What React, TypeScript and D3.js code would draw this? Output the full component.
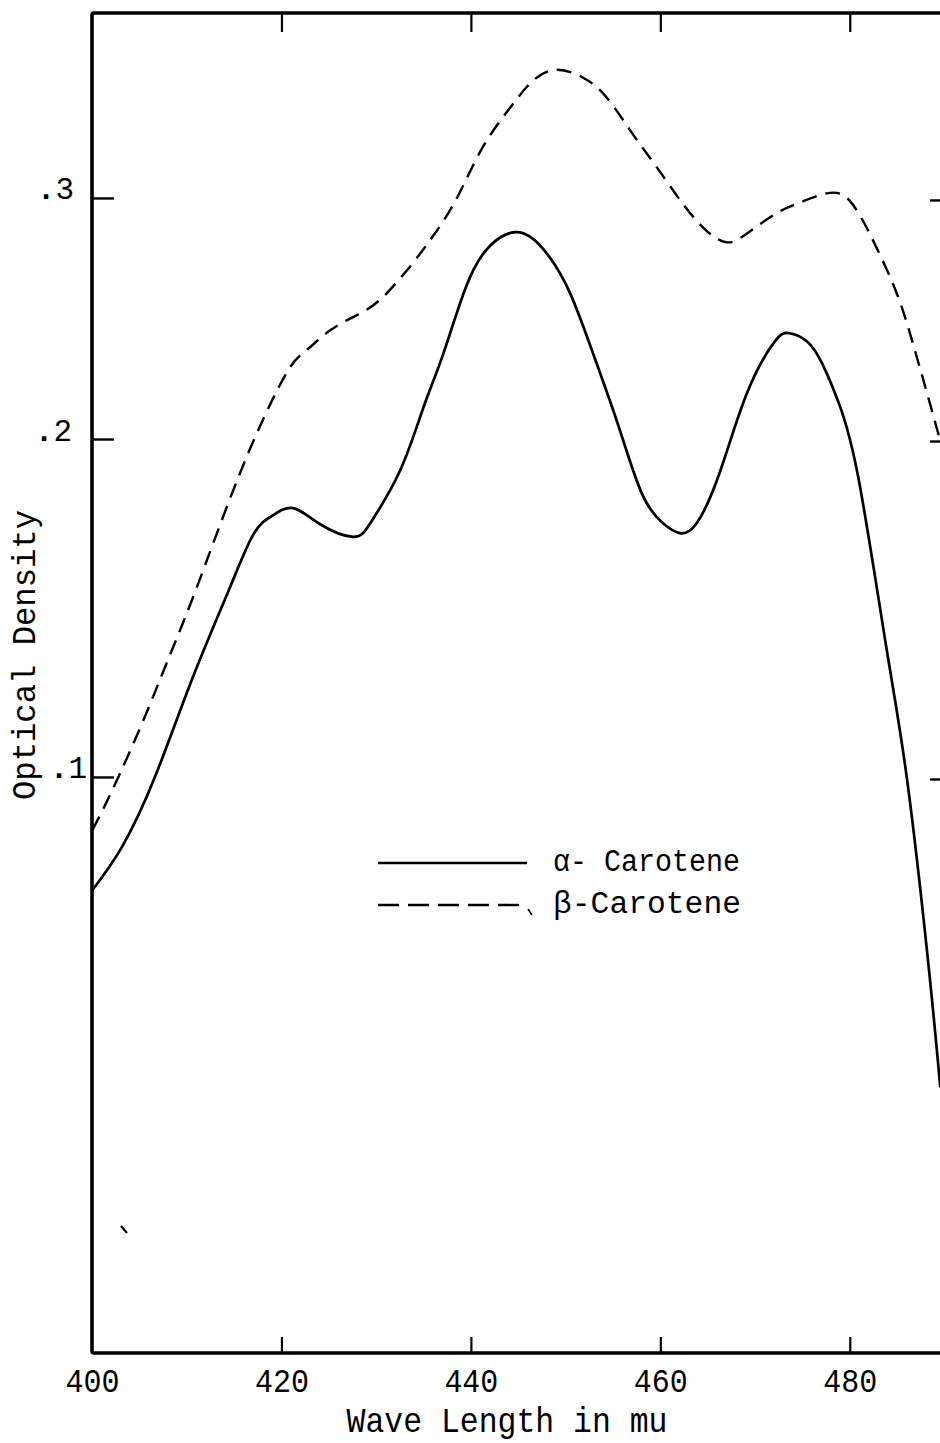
import React from 'react';
import * as d3 from 'd3';

// ---- data ----
const ALPHA_NM = [400.0, 403.1, 406.6, 410.5, 414.4, 417.0, 419.0, 421.2, 424.0, 427.5, 429.5, 432.5, 435.0, 437.0, 439.5, 442.0, 445.1, 448.0, 450.5, 453.0, 455.5, 458.0, 460.2, 462.0, 463.8, 466.2, 469.1, 472.0, 473.6, 475.5, 477.1, 478.8, 480.9, 483.8, 486.0, 488.2, 489.5];
const ALPHA_OD = [0.0667, 0.0794, 0.1002, 0.129, 0.1555, 0.172, 0.1775, 0.1797, 0.175, 0.1712, 0.176, 0.191, 0.214, 0.2352, 0.264, 0.2805, 0.2859, 0.277, 0.26, 0.234, 0.206, 0.184, 0.1753, 0.1723, 0.1753, 0.1901, 0.2193, 0.2405, 0.2441, 0.2405, 0.231, 0.215, 0.188, 0.1386, 0.0993, 0.046, 0.0084];

const BETA_NM = [400.0, 402.1, 405.2, 408.1, 410.5, 413.5, 416.9, 420.5, 422.6, 425.1, 427.9, 430.3, 433.2, 435.9, 438.5, 441.2, 444.1, 446.5, 449.0, 451.8, 454.3, 457.0, 459.6, 462.3, 464.8, 467.0, 469.1, 472.2, 474.7, 477.5, 479.9, 482.4, 484.9, 486.6, 488.1, 489.5];
const BETA_OD = [0.0845, 0.0963, 0.1158, 0.1357, 0.1525, 0.175, 0.199, 0.2277, 0.2371, 0.2453, 0.2516, 0.2578, 0.2702, 0.2841, 0.3004, 0.3213, 0.3377, 0.3489, 0.3534, 0.3501, 0.3418, 0.3269, 0.3128, 0.2979, 0.2867, 0.2818, 0.2855, 0.2938, 0.2983, 0.3021, 0.2992, 0.2826, 0.2607, 0.24, 0.2193, 0.1996];

const X_DOMAIN = [400, 490];
const X_TICKS = [400, 420, 440, 460, 480];
const Y_TICKS = [0.1, 0.2, 0.3];
const Y_TICK_LABELS = ['1', '2', '3'];
const X_TITLE = 'Wave Length in mu';
const Y_TITLE = 'Optical Density';
const LEGEND_LABELS = ['α- Carotene', 'β-Carotene'];

// ---- layout ----
const W = 940;
const H = 1443;
const FRAME = { left: 92, right: 945, top: 13, bottom: 1353 };
// the printed y scale is not evenly spaced: tick positions as fractions of the frame height
const Y_TICK_FRAC = [0.5705, 0.3183, 0.1384];
// typed labels are not aligned in the original: right edge of each y label
const Y_LABEL_END = [87, 72, 74];
const LEGEND_TEXT_LEN = [187, 188];
const FONT = "'Liberation Mono', 'DejaVu Sans Mono', monospace";

export default function App() {
  const fh = FRAME.bottom - FRAME.top;
  const x = d3.scaleLinear().domain(X_DOMAIN).range([FRAME.left + 0.5, FRAME.right]);
  const y = d3
    .scaleLinear()
    .domain(Y_TICKS)
    .range(Y_TICK_FRAC.map((f) => FRAME.top + f * fh));

  const line = d3
    .line<[number, number]>()
    .x((d) => x(d[0]))
    .y((d) => y(d[1]))
    .curve(d3.curveNatural);

  const alpha: [number, number][] = ALPHA_NM.map((n, i) => [n, ALPHA_OD[i]]);
  const beta: [number, number][] = BETA_NM.map((n, i) => [n, BETA_OD[i]]);

  const legendX0 = 378;
  const legendX1 = 527;
  const legendY = [863, 905];

  return (
    <svg
      width={W}
      height={H}
      viewBox={`0 0 ${W} ${H}`}
      style={{ position: 'absolute', left: 0, top: 0, background: '#fff' }}
    >
      <rect x={0} y={0} width={W} height={H} fill="#fff" />
      {/* frame */}
      <rect
        x={FRAME.left}
        y={FRAME.top}
        width={FRAME.right - FRAME.left}
        height={fh}
        fill="none"
        stroke="#000"
        strokeWidth={3.6}
        rx={2}
      />
      {/* x ticks (bottom up, top down) */}
      {X_TICKS.slice(1).map((t) => (
        <g key={'xt' + t}>
          <line x1={x(t)} x2={x(t)} y1={FRAME.bottom} y2={FRAME.bottom - 16} stroke="#000" strokeWidth={2.2} />
          <line x1={x(t)} x2={x(t)} y1={FRAME.top} y2={FRAME.top + 19} stroke="#000" strokeWidth={2.2} />
        </g>
      ))}
      {X_TICKS.map((t) => (
        <text
          key={'xl' + t}
          x={x(t)}
          y={FRAME.bottom + 39}
          textAnchor="middle"
          fontFamily={FONT}
          fontSize={34}
          textLength={54}
          lengthAdjust="spacingAndGlyphs"
          fill="#000"
        >
          {t}
        </text>
      ))}
      {/* y ticks */}
      {Y_TICKS.map((t, i) => (
        <g key={'yt' + t}>
          <line x1={FRAME.left} x2={FRAME.left + 22} y1={y(t)} y2={y(t)} stroke="#000" strokeWidth={2.4} />
          <line x1={FRAME.right} x2={FRAME.right - 15} y1={y(t) + 2} y2={y(t) + 2} stroke="#000" strokeWidth={2.4} />
          <text
            x={Y_LABEL_END[i]}
            y={y(t) + 1}
            textAnchor="end"
            fontFamily={FONT}
            fontSize={31}
            fill="#000"
          >
            <tspan fontWeight="bold">.</tspan>
            {Y_TICK_LABELS[i]}
          </text>
        </g>
      ))}
      {/* titles */}
      <text
        x={507}
        y={1432}
        textAnchor="middle"
        fontFamily={FONT}
        fontSize={35}
        textLength={321}
        lengthAdjust="spacingAndGlyphs"
        fill="#000"
      >
        {X_TITLE}
      </text>
      <text
        transform={`translate(35, 655) rotate(-90)`}
        textAnchor="middle"
        fontFamily={FONT}
        fontSize={34}
        textLength={290}
        lengthAdjust="spacingAndGlyphs"
        fill="#000"
      >
        {Y_TITLE}
      </text>
      {/* curves */}
      <path d={line(beta) || ''} fill="none" stroke="#000" strokeWidth={2.4} strokeDasharray="15 9" />
      <path d={line(alpha) || ''} fill="none" stroke="#000" strokeWidth={2.7} strokeLinejoin="round" />
      {/* legend */}
      <line x1={legendX0} x2={legendX1} y1={legendY[0]} y2={legendY[0]} stroke="#000" strokeWidth={2.4} />
      <line
        x1={legendX0}
        x2={legendX1}
        y1={legendY[1]}
        y2={legendY[1]}
        stroke="#000"
        strokeWidth={2.4}
        strokeDasharray="21 9"
      />
      {LEGEND_LABELS.map((l, i) => (
        <text
          key={l}
          x={553}
          y={legendY[i] + 8}
          fontFamily={FONT}
          fontSize={31}
          textLength={LEGEND_TEXT_LEN[i]}
          lengthAdjust="spacingAndGlyphs"
          fill="#000"
        >
          {l}
        </text>
      ))}
      {/* scan marks */}
      <line x1={121} y1={1226} x2={127} y2={1233} stroke="#000" strokeWidth={2} />
      <line x1={528} y1={909} x2={532} y2={915} stroke="#000" strokeWidth={1.5} />
    </svg>
  );
}
